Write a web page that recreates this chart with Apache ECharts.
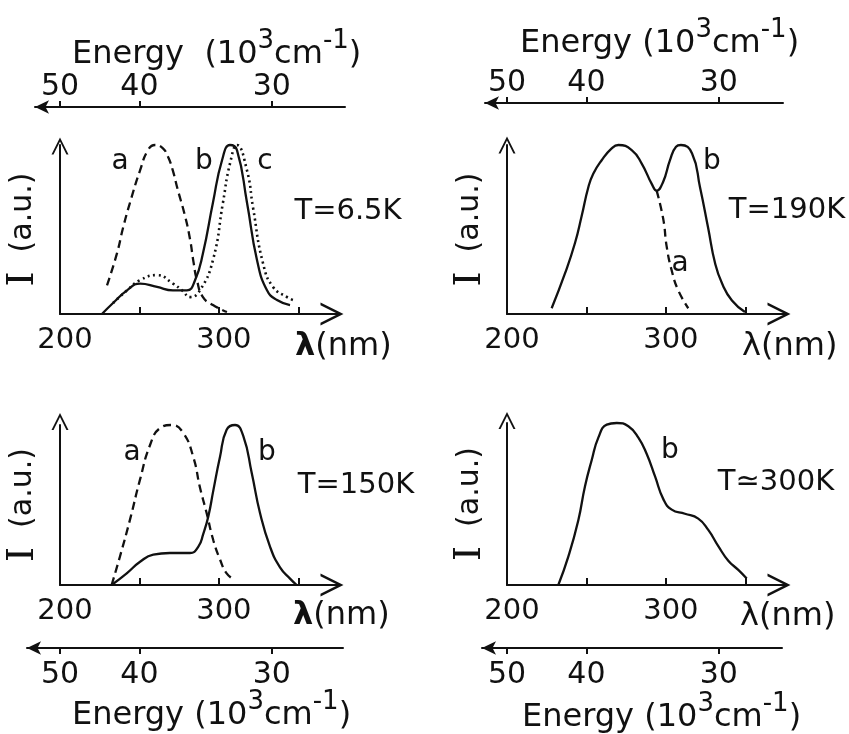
<!DOCTYPE html>
<html><head><meta charset="utf-8">
<script src="https://cdn.jsdelivr.net/npm/echarts@6/dist/echarts.min.js"></script>
<style>html,body{margin:0;padding:0;background:#fff}#c{width:849px;height:734px}</style>
</head><body><div id="c"></div>
<script>
// ---------------- data (wavelength nm, intensity a.u.) ----------------
const lambdaMin = 200, lambdaMax = 375;
const lambdaTicks = [250, 300, 350];
const lambdaLabels = [200, 300];
const energyTicks = [50, 40, 30];          // 10^3 cm^-1

// T = 6.5 K
const p1_a = [[229.6,0.17],[235.9,0.36],[239.7,0.51],[244.1,0.66],[250.4,0.85],[255.4,0.97],[259.8,1.0],[264.8,0.98],[268.0,0.93],[271.0,0.85],[274.0,0.74],[278.7,0.58],[281.9,0.44],[284.0,0.31],[286.2,0.20],[290.0,0.10],[296.3,0.053],[305.1,0.012]];
const p1_b = [[226.4,0],[233.4,0.065],[242.2,0.14],[250.4,0.18],[261.1,0.16],[271.1,0.14],[279.9,0.14],[285.0,0.20],[290.0,0.36],[296.3,0.66],[302.0,0.91],[307.0,1.0],[311.4,0.97],[317.7,0.66],[324.0,0.32],[330.3,0.14],[336.6,0.083],[344.8,0.053]];
const p1_c = [[233.4,0.065],[242.2,0.14],[250.4,0.20],[261.1,0.23],[271.1,0.18],[276.8,0.14],[281.9,0.10],[288.1,0.14],[296.3,0.32],[302.6,0.66],[307.0,0.89],[311.4,1.0],[317.7,0.85],[321.5,0.63],[327.8,0.30],[334.1,0.16],[342.9,0.10],[346.7,0.083]];
// T = 190 K
const p2_b = [[228.1,0.034],[236.5,0.24],[242.8,0.42],[247.0,0.58],[251.2,0.75],[254.3,0.83],[259.6,0.91],[265.9,0.98],[270.1,1.0],[278.5,0.97],[284.8,0.89],[291.1,0.77],[294.2,0.73],[298.2,0.78],[302.6,0.91],[306.4,0.99],[309.5,1.0],[316.5,0.95],[321.5,0.75],[326.6,0.51],[331.0,0.30],[335.4,0.18],[341.6,0.08],[349.8,0.012]];
const p2_a = [[294.2,0.73],[298.4,0.56],[300.5,0.40],[303.6,0.26],[307.8,0.14],[314.1,0.034]];
// T = 150 K
const p3_a = [[232.5,0],[237.8,0.18],[244.1,0.41],[250.4,0.66],[256.7,0.875],[262.9,0.98],[270.3,1.0],[277.6,0.95],[283.9,0.80],[288.1,0.61],[292.3,0.45],[296.5,0.28],[300.7,0.16],[304.9,0.073],[310.2,0.03]];
const p3_b = [[232.5,0],[242.0,0.073],[250.4,0.145],[258.7,0.19],[269.2,0.20],[281.8,0.20],[287.1,0.24],[290.2,0.32],[293.4,0.43],[296.5,0.59],[300.7,0.80],[304.9,0.97],[310.2,1.0],[315.4,0.93],[320.7,0.70],[325.9,0.45],[332.2,0.24],[338.5,0.11],[344.8,0.04],[349.0,0]];
// T = 300 K
const p4_b = [[232.3,0],[238.6,0.175],[244.9,0.40],[249.1,0.61],[253.3,0.77],[257.5,0.91],[262.8,0.99],[269.1,1.0],[276.4,0.98],[282.7,0.91],[287.9,0.81],[293.2,0.67],[298.4,0.53],[303.7,0.465],[312.0,0.44],[320.4,0.41],[326.7,0.34],[333.0,0.24],[339.3,0.15],[345.6,0.093],[350.9,0.04]];

// curve letter positions [lambda, I]
const p1_labels = [['a',237.8,0.90],['b',290.6,0.90],['c',329,0.90]];
const p2_labels = [['b',329,0.90],['a',308.9,0.30]];
const p3_labels = [['a',245.3,0.825],['b',330.3,0.825]];
const p4_labels = [['b',302.6,0.83]];
const tempLabels = ['T=6.5K','T=190K','T=150K','T≃300K'];

// ---------------- layout ----------------
const FONT = 'DejaVu Sans';
const INK = '#111';
const CHEV = 'path://M0,20 L10,0 L20,20 L17.6,20 L10,4.8 L2.4,20 Z';
const GW = 278;                       // grid width for 200..375 nm
const K = GW / (lambdaMax - lambdaMin);

const panels = [
  {left:60,  top:145, height:169, yOff:-1, nameGap:-43, bold:true, npad:17,
   series:[{d:p1_a,s:'dashed'},{d:p1_b,s:'solid'},{d:p1_c,s:'dotted'}], labels:p1_labels, t:[348,211]},
  {left:507, top:145, height:169, yOff:0, nameGap:-43, bold:false, npad:17,
   series:[{d:p2_b,s:'solid'},{d:p2_a,s:'dashed'}], labels:p2_labels, t:[787,210]},
  {left:60,  top:425, height:160, yOff:3.5, nameGap:-45, bold:true, npad:15,
   series:[{d:p3_a,s:'dashed'},{d:p3_b,s:'solid'}], labels:p3_labels, t:[356,485]},
  {left:507, top:423, height:162, yOff:2.5, nameGap:-45, bold:false, npad:16,
   series:[{d:p4_b,s:'solid'}], labels:p4_labels, t:[776,482]}
];
const energyAxes = [
  {left:35,  right:345, y:107, pos:'top',    originX:60,  gap:-37, pad:36, name:'{n|Energy  (10}{s|3}{n|cm}{s|-1}{n|)}'},
  {left:485, right:783, y:103, pos:'top',    originX:507, gap:-35, pad:43, name:'{n|Energy (10}{s|3}{n|cm}{s|-1}{n|)}'},
  {left:27,  right:343, y:648, pos:'bottom', originX:60,  gap:-45, pad:48, name:'{n|Energy (10}{s|3}{n|cm}{s|-1}{n|)}'},
  {left:482, right:782, y:648, pos:'bottom', originX:507, gap:-40, pad:50, name:'{n|Energy (10}{s|3}{n|cm}{s|-1}{n|)}'}
];

const grid = [], xAxis = [], yAxis = [], series = [], graphic = [];
const lineStyleAxis = {color: INK, width: 2};

panels.forEach((p, i) => {
  grid.push({left: p.left, top: p.top, width: GW, height: p.height, outerBoundsMode: 'none', containLabel: false});
  xAxis.push({
    gridIndex: i, type: 'value', min: lambdaMin, max: lambdaMax, position: 'bottom',
    axisLine: {show: true, onZero: false, lineStyle: lineStyleAxis, symbol: ['none', CHEV], symbolSize: [23, 23], symbolOffset: [0, -6]},
    axisTick: {show: true, inside: true, length: 7, customValues: lambdaTicks, lineStyle: lineStyleAxis},
    axisLabel: {show: true, customValues: lambdaLabels, margin: 12, fontSize: 29, fontFamily: FONT, color: INK, padding: [0, 0, 0, 10]},
    splitLine: {show: false},
    name: '{l|λ}{t|(nm)}', nameLocation: 'end', nameGap: p.nameGap, nameMoveOverlap: false,
    nameTextStyle: {align: 'left', verticalAlign: 'top', padding: [p.npad, 0, 0, 0],
      rich: {l: {fontSize: 32, fontFamily: FONT, color: INK, fontWeight: p.bold ? 'bold' : 'normal'},
             t: {fontSize: 32, fontFamily: FONT, color: INK}}}
  });
  yAxis.push({
    gridIndex: i, type: 'value', min: 0, max: 1,
    axisLine: {show: true, onZero: false, lineStyle: lineStyleAxis, symbol: ['none', CHEV], symbolSize: [17, 17], symbolOffset: [0, p.yOff]},
    axisTick: {show: false}, axisLabel: {show: false}, splitLine: {show: false},
    name: '{i|I}{t|  (a.u.)}', nameLocation: 'middle', nameRotate: 90, nameGap: 18, nameMoveOverlap: false,
    nameTextStyle: {rich: {i: {fontSize: 38, fontFamily: 'DejaVu Serif', color: INK},
                           t: {fontSize: 30, fontFamily: FONT, color: INK}}}
  });
  p.series.forEach((s, j) => {
    const ls = {color: INK, width: s.s === 'dotted' ? 2.6 : 2.3};
    if (s.s === 'dashed') ls.type = [8, 5];
    if (s.s === 'dotted') ls.type = [2, 3.5];
    const ser = {
      type: 'line', xAxisIndex: i, yAxisIndex: i, data: s.d, showSymbol: false, symbol: 'none',
      smooth: 0.5, clip: false, silent: true, lineStyle: ls, z: 3
    };
    if (j === 0) {
      ser.markPoint = {
        symbol: 'circle', symbolSize: 1, itemStyle: {color: 'rgba(0,0,0,0)'}, silent: true,
        label: {show: true, position: 'inside', formatter: '{b}', fontSize: 28, fontFamily: FONT, color: INK},
        data: p.labels.map(l => ({name: l[0], coord: [l[1], l[2]]}))
      };
    }
    series.push(ser);
  });
  graphic.push({type: 'text', x: p.t[0], y: p.t[1], silent: true,
    style: {text: tempLabels[i], font: '29px "' + FONT + '"', fill: INK, align: 'center', verticalAlign: 'middle', textAlign: 'center', textVerticalAlign: 'middle'}});
});

energyAxes.forEach((e, k) => {
  const gi = 4 + k;
  const top = e.pos === 'top' ? e.y : e.y - 1;
  grid.push({left: e.left, top: top, width: e.right - e.left, height: 1, outerBoundsMode: 'none', containLabel: false});
  const vals = energyTicks.map(E => 10000 / E);
  xAxis.push({
    gridIndex: gi, type: 'value', position: e.pos,
    min: lambdaMin + (e.left - e.originX) / K, max: lambdaMin + (e.right - e.originX) / K,
    axisLine: {show: true, onZero: false, lineStyle: lineStyleAxis, symbol: ['arrow', 'none'], symbolSize: [10, 14]},
    axisTick: {show: true, customValues: vals, length: 6, lineStyle: lineStyleAxis},
    axisLabel: {show: true, customValues: vals, formatter: v => String(Math.round(10000 / v)),
      margin: e.pos === 'top' ? 5 : 12, fontSize: 30, fontFamily: FONT, color: INK},
    splitLine: {show: false},
    name: e.name, nameLocation: 'start', nameGap: e.gap, nameMoveOverlap: false,
    nameTextStyle: {align: 'left', verticalAlign: e.pos === 'top' ? 'bottom' : 'top',
      padding: e.pos === 'top' ? [0, 0, e.pad, 0] : [e.pad, 0, 0, 0],
      rich: {n: {fontSize: 32, lineHeight: 36, fontFamily: FONT, color: INK, verticalAlign: 'bottom'},
             s: {fontSize: 26, lineHeight: 26, fontFamily: FONT, color: INK, verticalAlign: 'bottom', padding: [0, 0, 17, 0]}}}
  });
  yAxis.push({gridIndex: gi, type: 'value', show: false});
});

const chart = echarts.init(document.getElementById('c'), null, {renderer: 'canvas'});
chart.setOption({
  backgroundColor: '#ffffff', animation: false,
  grid, xAxis, yAxis, series, graphic
});
</script></body></html>
